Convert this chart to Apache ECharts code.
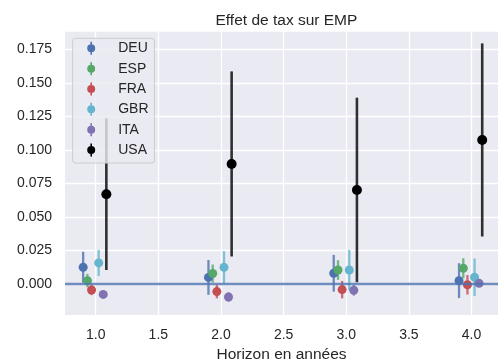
<!DOCTYPE html>
<html><head><meta charset="utf-8">
<script src="https://cdn.jsdelivr.net/npm/echarts@6/dist/echarts.min.js"></script>
<style>html,body{margin:0;padding:0;background:#fff}#c{width:498px;height:360px}</style>
</head><body><div id="c"></div>
<script>
const countries = ['DEU', 'ESP', 'FRA', 'GBR', 'ITA', 'USA'];
const horizons = [1, 2, 3, 4];
const dodge = [-0.1, -0.066, -0.033, 0.024, 0.06, 0.085];
const DEU = [0.0125, 0.0049, 0.008, 0.0025];
const DEU_err = [0.0115, 0.013, 0.0137, 0.013];
const ESP = [0.0025, 0.0078, 0.0104, 0.0117];
const ESP_err = [0.005, 0.0067, 0.0073, 0.0075];
const FRA = [-0.0045, -0.0057, -0.0042, -0.0006];
const FRA_err = [0.0038, 0.005, 0.0065, 0.0073];
const GBR = [0.0157, 0.0124, 0.0104, 0.005];
const GBR_err = [0.0097, 0.012, 0.015, 0.014];
const ITA = [-0.0078, -0.0097, -0.0047, 0.0005];
const ITA_err = [0.002, 0.0035, 0.004, 0.002];
const USA = [0.0669, 0.0895, 0.0701, 0.1074];
const USA_err = [0.0565, 0.069, 0.0688, 0.072];
const xTicks = [1.0, 1.5, 2.0, 2.5, 3.0, 3.5, 4.0];
const yTicks = [0, 0.025, 0.05, 0.075, 0.1, 0.125, 0.15, 0.175];

const values = [DEU, ESP, FRA, GBR, ITA, USA];
const errors = [DEU_err, ESP_err, FRA_err, GBR_err, ITA_err, USA_err];
const colors = ['#4C72B0', '#55A868', '#C44E52', '#64B5CD', '#8172B2', '#000000'];
const FONT = '"Liberation Sans", Arial, sans-serif';
const TXT = '#262626';
const icon = 'path://M3.7,0H5.3V13H3.7Z M0.5,6.5A4,4 0 1,1 8.5,6.5A4,4 0 1,1 0.5,6.5Z';

const series = [{
  type: 'line', data: [], z: 1, silent: true,
  markLine: {
    silent: true, symbol: 'none', label: {show: false},
    lineStyle: {color: '#4C72B0', width: 2.3, type: 'solid', opacity: 0.8},
    data: [{yAxis: 0}]
  }
}];
countries.forEach((c, i) => {
  const isUSA = c === 'USA';
  series.push({
    type: 'custom', z: 2, silent: true,
    encode: {x: 0, y: [1, 2]},
    data: horizons.map((h, j) => [h + dodge[i], values[i][j] - errors[i][j], values[i][j] + errors[i][j]]),
    renderItem: (params, api) => {
      const p1 = api.coord([api.value(0), api.value(1)]);
      const p2 = api.coord([api.value(0), api.value(2)]);
      return {type: 'line', shape: {x1: p1[0], y1: p1[1], x2: p2[0], y2: p2[1]},
        style: {stroke: colors[i], lineWidth: isUSA ? 2.6 : 2.3, opacity: 0.8}};
    }
  });
  series.push({
    type: 'scatter', name: c, z: 2, symbol: 'circle',
    symbolSize: isUSA ? 10 : 9,
    itemStyle: {color: colors[i], opacity: 1},
    data: horizons.map((h, j) => [h + dodge[i], values[i][j]])
  });
});

const chart = echarts.init(document.getElementById('c'), null, {renderer: 'canvas'});
chart.setOption({
  animation: false,
  backgroundColor: '#ffffff',
  title: {
    text: 'Effet de tax sur EMP', left: 210.5, top: 8,
    textStyle: {fontFamily: FONT, fontSize: 15.5, fontWeight: 'normal', color: TXT}
  },
  legend: {
    orient: 'vertical', left: 72.7, top: 38.3,
    padding: [3, 6, 6, 14.5], itemGap: 6.35, itemWidth: 8, itemHeight: 13,
    backgroundColor: 'rgba(234,234,242,0.8)', borderColor: '#cccccc', borderWidth: 1, borderRadius: 3,
    textStyle: {fontFamily: FONT, fontSize: 14, color: TXT, lineHeight: 14, padding: [0, 0, 0, 18]},
    data: countries.map(n => ({name: n, icon: icon}))
  },
  grid: {
    left: 65, right: 0, top: 31.7, bottom: 45,
    outerBoundsMode: 'none', containLabel: false,
    show: true, backgroundColor: '#EAEAF2', borderWidth: 0
  },
  xAxis: {
    type: 'value', min: 0.755, max: 4.211,
    name: 'Horizon en années', nameLocation: 'middle', nameGap: 30,
    nameTextStyle: {fontFamily: FONT, fontSize: 15.5, color: TXT},
    axisLine: {show: false},
    axisTick: {show: false, customValues: xTicks},
    axisLabel: {customValues: xTicks, margin: 13, fontFamily: FONT, fontSize: 14, color: TXT,
      formatter: v => v.toFixed(1)},
    splitLine: {show: true, lineStyle: {color: '#ffffff', width: 1.3}}
  },
  yAxis: {
    type: 'value', min: -0.02313, max: 0.1881,
    axisLine: {show: false},
    axisTick: {show: false, customValues: yTicks},
    axisLabel: {customValues: yTicks, margin: 13, fontFamily: FONT, fontSize: 14, color: TXT,
      formatter: v => v.toFixed(3)},
    splitLine: {show: true, lineStyle: {color: '#ffffff', width: 1.3}}
  },
  series: series
});
</script>
</body></html>
